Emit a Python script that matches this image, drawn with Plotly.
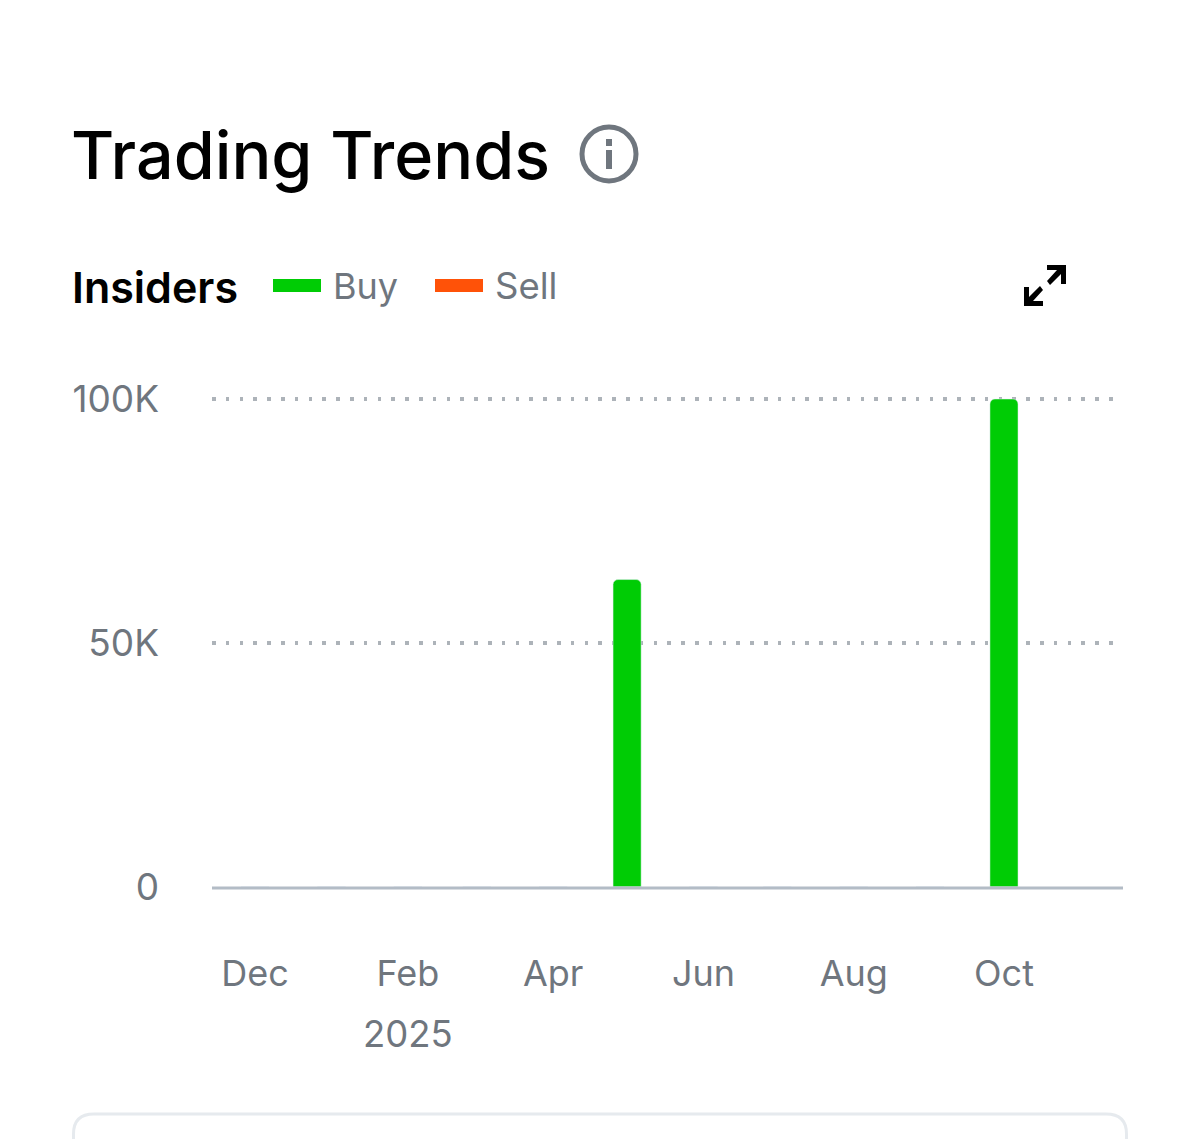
import plotly.graph_objects as go

months = ["2024-12-01", "2025-01-01", "2025-02-01", "2025-03-01", "2025-04-01", "2025-05-01",
          "2025-06-01", "2025-07-01", "2025-08-01", "2025-09-01", "2025-10-01"]
buy = [0, 0, 0, 0, 0, 63000, 0, 0, 0, 0, 100000]
sell = [0, 0, 0, 0, 0, 0, 0, 0, 0, 0, 0]
x_tick_dates = ["2024-12-01", "2025-02-01", "2025-04-01", "2025-06-01", "2025-08-01", "2025-10-01"]
x_tick_labels = ["Dec", "Feb", "Apr", "Jun", "Aug", "Oct"]
year_tick_date = "2025-02-01"
year_label = "2025"
y_tick_vals = [0, 50000, 100000]
y_tick_labels = ["0", "50K", "100K"]

W, H = 1200, 1139
L, R, T, B = 212, 1113, 394, 887
Y_TOP = 100000 * (B - T) / (887 - 399)
GREEN, ORANGE, GREY, INK = "#00CC05", "#FF5208", "#6F767E", "#000000"
FONT = "Inter"
BAR_MS = 11.4 * 86400000


def px(x):
    return (x - L) / (R - L)


def py(y):
    return (B - y) / (B - T)


def path(points):
    return "M " + " L ".join(f"{px(x):.5f},{py(y):.5f}" for x, y in points)


fig = go.Figure()
fig.add_bar(x=months, y=buy, name="Buy", marker_color=GREEN, width=BAR_MS, showlegend=False)
fig.add_bar(x=months, y=sell, name="Sell", marker_color=ORANGE, width=BAR_MS, showlegend=False)

shapes = [
    dict(type="line", xref="paper", yref="paper", x0=0, x1=px(1123), y0=py(888), y1=py(888),
         line=dict(color="#B3BCC6", width=3)),
    dict(type="rect", xref="paper", yref="paper", x0=px(273), x1=px(321), y0=py(292), y1=py(279),
         fillcolor=GREEN, line_width=0),
    dict(type="rect", xref="paper", yref="paper", x0=px(435), x1=px(483), y0=py(292), y1=py(279),
         fillcolor=ORANGE, line_width=0),
    dict(type="circle", xref="paper", yref="paper", x0=px(582), x1=px(636), y0=py(181), y1=py(127),
         line=dict(color=GREY, width=5)),
    dict(type="rect", xref="paper", yref="paper", x0=px(606), x1=px(612), y0=py(169), y1=py(150),
         fillcolor=GREY, line_width=0),
    dict(type="rect", xref="paper", yref="paper", x0=px(606), x1=px(612), y0=py(146), y1=py(139),
         fillcolor=GREY, line_width=0),
    dict(type="path", xref="paper", yref="paper", fillcolor=INK, line_width=0,
         path=path([(1047, 265), (1066, 265), (1066, 284), (1061, 284), (1061, 274), (1050, 285),
                    (1047, 281), (1057, 270), (1047, 270)]) + " Z"),
    dict(type="path", xref="paper", yref="paper", fillcolor=INK, line_width=0,
         path=path([(1024, 287), (1029, 287), (1029, 297), (1040, 286), (1043, 290), (1033, 301),
                    (1043, 301), (1043, 306), (1024, 306)]) + " Z"),
    dict(type="path", xref="paper", yref="paper", line=dict(color="#E6EAEE", width=3),
         path=f"M {px(73.5):.5f},{py(1139):.5f} L {px(73.5):.5f},{py(1134):.5f} "
              f"Q {px(73.5):.5f},{py(1114):.5f} {px(94):.5f},{py(1114):.5f} "
              f"L {px(1106):.5f},{py(1114):.5f} "
              f"Q {px(1126.5):.5f},{py(1114):.5f} {px(1126.5):.5f},{py(1134):.5f} "
              f"L {px(1126.5):.5f},{py(1139):.5f}"),
]


def label(text, x, y, size, color, weight=400):
    return dict(text=text, xref="paper", yref="paper", x=px(x), y=py(y), xanchor="left", yanchor="middle",
                showarrow=False, font=dict(family=FONT, size=size, color=color, weight=weight),
                align="left", borderpad=0)


annotations = [
    label("Trading Trends", 70, 155, 66.4, INK, 500),
    label("Insiders", 71, 287, 43, INK, 600),
    label("Buy", 332, 286, 36, GREY),
    label("Sell", 494, 286, 36.5, GREY),
    dict(text=year_label, xref="x", yref="paper", x=year_tick_date, y=py(1034), xanchor="center",
         yanchor="middle", showarrow=False, font=dict(family=FONT, size=36.5, color=GREY), borderpad=0),
]

fig.update_layout(
    width=W, height=H,
    margin=dict(l=L, r=W - R, t=T, b=H - B, pad=0),
    paper_bgcolor="#FFFFFF", plot_bgcolor="#FFFFFF",
    barmode="overlay", barcornerradius=5, showlegend=False,
    font=dict(family=FONT, color=GREY, size=36),
    shapes=shapes, annotations=annotations,
    xaxis=dict(type="date", range=["2024-11-13 12:00", "2025-11-14 06:00"],
               tickmode="array", tickvals=x_tick_dates, ticktext=x_tick_labels,
               showgrid=False, zeroline=False, showline=False, ticks="",
               ticklabelstandoff=62, tickfont=dict(family=FONT, size=36, color=GREY)),
    yaxis=dict(range=[0, Y_TOP], tickmode="array", tickvals=y_tick_vals, ticktext=y_tick_labels,
               showgrid=True, gridcolor="#ADB3B9", gridwidth=3.5, griddash="3.5px,10.3px",
               zeroline=False, showline=False, ticks="", ticklabelstandoff=52,
               tickfont=dict(family=FONT, size=37, color=GREY)),
)
fig.write_html("out.html", config=dict(displayModeBar=False),
               post_script="document.body.style.margin='0';document.body.style.overflow='hidden';")
